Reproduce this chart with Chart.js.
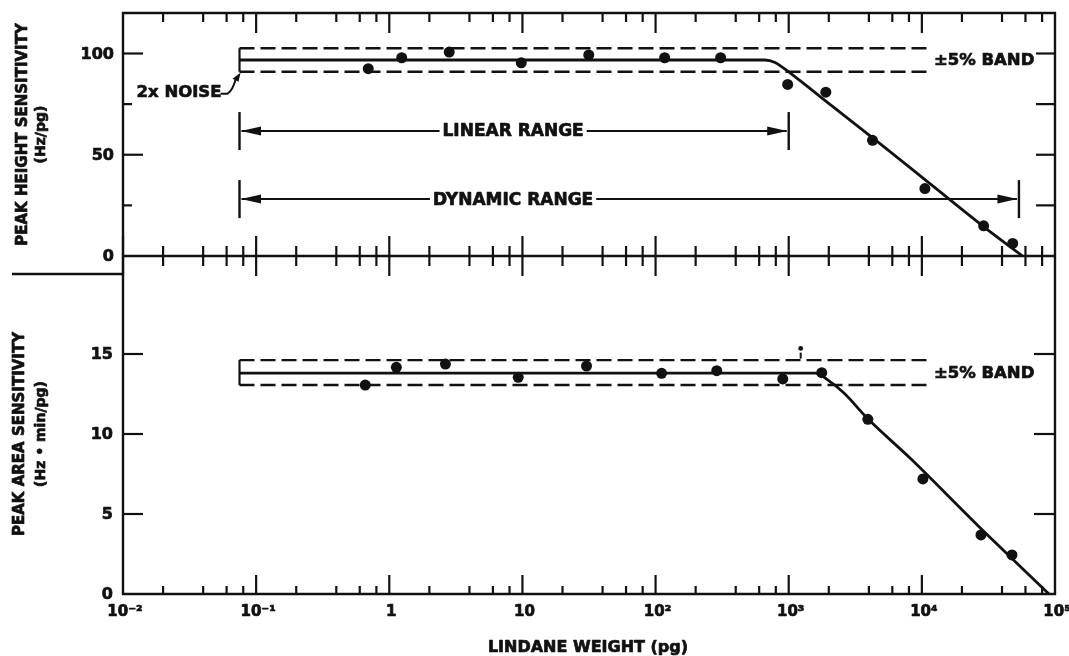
<!DOCTYPE html>
<html>
<head>
<meta charset="utf-8">
<script src="https://cdn.jsdelivr.net/npm/chart.js@4.4.0/dist/chart.umd.min.js"></script>
<style>
  html, body { margin: 0; padding: 0; background: #fff; }
  #wrap { position: relative; width: 1069px; height: 656px; }
  #wrap canvas { position: absolute; left: 0; top: 0; }
</style>
</head>
<body>
<div id="wrap">
  <canvas id="areaChart" width="1069" height="656"></canvas>
  <canvas id="heightChart" width="1069" height="656"></canvas>
</div>
<script>
// Lindane weight axis (pg)
const weightTicks = [0.01, 0.1, 1, 10, 100, 1000, 10000, 100000];
const weightTickLabels = ['10⁻²', '10⁻¹', '1', '10', '10²', '10³', '10⁴', '10⁵'];
const weightMinorMultipliers = [2, 4, 6, 8];

// Peak height sensitivity (Hz/pg)
const heightTicks = [0, 50, 100];
const heightMinorTicks = [25, 75];
const heightWeights = [0.695, 1.24, 2.82, 9.8, 31.5, 117, 308, 982, 1900, 4260, 10540, 29100, 48100];
const heightValues  = [92.5, 97.9, 100.7, 95.4, 99.3, 97.9, 97.9, 84.7, 80.9, 57.1, 33.3, 14.9, 6.2];
const heightFitWeights = [0.075, 660, 790, 916, 1740, 4900, 7760, 29200, 57000];
const heightFitValues  = [96.8, 96.8, 95.6, 92.8, 78.5, 55.2, 44.8, 14.4, 0];
const heightBand = [91.0, 102.6];

// Peak area sensitivity (Hz·min/pg)
const areaTicks = [0, 5, 10, 15];
const areaWeights = [0.66, 1.13, 2.64, 9.3, 30.3, 111, 288, 902, 1770, 3930, 10180, 27800, 47500];
const areaValues  = [13.06, 14.17, 14.37, 13.54, 14.25, 13.79, 13.96, 13.44, 13.83, 10.92, 7.19, 3.69, 2.44];
const areaFitWeights = [0.075, 1590, 1950, 2600, 3930, 8260, 26200, 90200];
const areaFitValues  = [13.8, 13.8, 13.4, 12.56, 10.95, 8.45, 4.3, 0];
const areaBand = [13.06, 14.62];
const areaStrayWeights = [1230];
const areaStrayValues  = [15.35];

// ±5% band extent and the range markers
const bandStart = 0.075;
const bandEnd = 11700;
const linearRange = [0.075, 1000];
const linearRangeLevel = 61.7;
const dynamicRange = [0.075, 53600];
const dynamicRangeLevel = 28.1;

const INK = '#111';
const FONT = '"DejaVu Sans", "Liberation Sans", sans-serif';

const pts = (xs, ys) => xs.map((x, i) => ({ x, y: ys[i] }));

function bandDatasets(band) {
  const dashed = { showLine: true, pointRadius: 0, borderColor: INK, borderWidth: 2.4, borderDash: [15, 6] };
  return [
    Object.assign({ data: [{ x: bandStart, y: band[0] }, { x: bandEnd, y: band[0] }] }, dashed),
    Object.assign({ data: [{ x: bandStart, y: band[1] }, { x: bandEnd, y: band[1] }] }, dashed),
    { data: [{ x: bandStart, y: band[0] }, { x: bandStart, y: band[1] }], showLine: true, pointRadius: 0, borderColor: INK, borderWidth: 2.2 }
  ];
}

function fitDataset(xs, ys) {
  return { data: pts(xs, ys), showLine: true, pointRadius: 0, borderColor: INK, borderWidth: 2.8, cubicInterpolationMode: 'monotone' };
}

function pointDataset(xs, ys) {
  return { data: pts(xs, ys), showLine: false, pointRadius: 5.5, pointBackgroundColor: INK, pointBorderColor: INK, pointBorderWidth: 0 };
}

function baseOptions(yMax, padding) {
  return {
    responsive: false,
    animation: false,
    devicePixelRatio: 1,
    layout: { padding },
    plugins: { legend: { display: false }, tooltip: { enabled: false } },
    scales: {
      x: { type: 'logarithmic', min: 0.01, max: 100000, display: false },
      y: { type: 'linear', min: 0, max: yMax, display: false }
    }
  };
}

function line(ctx, x1, y1, x2, y2) {
  ctx.beginPath(); ctx.moveTo(x1, y1); ctx.lineTo(x2, y2); ctx.stroke();
}

// heavy lettering: fill plus a thin outline
function text(ctx, str, x, y) {
  ctx.save();
  ctx.lineWidth = 0.7;
  ctx.lineJoin = 'round';
  ctx.strokeText(str, x, y);
  ctx.fillText(str, x, y);
  ctx.restore();
}

function arrowHead(ctx, tipX, y, dir) {
  // dir = -1 points left, +1 points right
  ctx.beginPath();
  ctx.moveTo(tipX, y);
  ctx.lineTo(tipX - dir * 20, y - 4.5);
  ctx.lineTo(tipX - dir * 20, y + 4.5);
  ctx.closePath();
  ctx.fill();
}

function rangeMarker(ctx, xs, ys, from, to, level, label) {
  const x1 = xs.getPixelForValue(from), x2 = xs.getPixelForValue(to);
  const py = ys.getPixelForValue(level);
  ctx.lineWidth = 2.4;
  line(ctx, x1, py - 19, x1, py + 19);
  line(ctx, x2, py - 19, x2, py + 19);
  ctx.font = 'bold 17px ' + FONT;
  ctx.textAlign = 'center'; ctx.textBaseline = 'middle';
  const cx = (xs.getPixelForValue(0.075) + xs.getPixelForValue(1000)) / 2 - 1;
  const w = ctx.measureText(label).width;
  text(ctx, label, cx, py + 1);
  ctx.lineWidth = 2;
  line(ctx, x1 + 2, py, cx - w / 2 - 3, py);
  line(ctx, cx + w / 2 + 3, py, x2 - 2, py);
  arrowHead(ctx, x1 + 1.5, py, -1);
  arrowHead(ctx, x2 - 1.5, py, 1);
}

function decadeTicks(fn) {
  for (let e = -2; e <= 4; e++) {
    for (const m of [1].concat(weightMinorMultipliers)) {
      const v = m * Math.pow(10, e);
      if (v <= 0.01) continue;
      fn(v, m === 1);
    }
  }
}

// Upper panel frame, ticks, labels and annotations
const heightPanel = {
  id: 'heightPanel',
  afterDatasetsDraw(chart) {
    const { ctx, chartArea: a, scales: { x, y } } = chart;
    ctx.save();
    ctx.strokeStyle = INK; ctx.fillStyle = INK; ctx.lineCap = 'butt';

    ctx.lineWidth = 2.4;
    ctx.beginPath();
    ctx.moveTo(a.left, a.bottom); ctx.lineTo(a.left, a.top);
    ctx.lineTo(a.right, a.top); ctx.lineTo(a.right, a.bottom);
    ctx.stroke();
    line(ctx, a.left, a.bottom, a.right, a.bottom);

    // x ticks: inward from the top, crossing the shared middle axis
    ctx.lineWidth = 2.2;
    decadeTicks((v, major) => {
      const px = x.getPixelForValue(v);
      line(ctx, px, a.top, px, a.top + (major ? 20 : 9));
      line(ctx, px, a.bottom - (major ? 20 : 10), px, a.bottom + (major ? 20 : 10));
    });
    line(ctx, a.left, a.bottom - 20, a.left, a.bottom + 20);

    // y ticks
    heightTicks.concat(heightMinorTicks).forEach(v => {
      if (v === 0) return;
      const py = y.getPixelForValue(v);
      const major = heightTicks.includes(v);
      line(ctx, a.left, py, a.left + (major ? 20 : 9), py);
      line(ctx, a.right - 19, py, a.right, py);
    });

    ctx.font = 'bold 16px ' + FONT;
    ctx.textAlign = 'right'; ctx.textBaseline = 'middle';
    heightTicks.forEach(v => text(ctx, String(v), a.left - 9, y.getPixelForValue(v) + 1));

    // axis title
    ctx.save();
    ctx.translate(23, (a.top + a.bottom) / 2);
    ctx.rotate(-Math.PI / 2);
    ctx.textAlign = 'center'; ctx.textBaseline = 'middle';
    ctx.font = 'bold 15px ' + FONT;
    text(ctx, 'PEAK HEIGHT SENSITIVITY', 0, 0);
    ctx.font = 'bold 14px ' + FONT;
    text(ctx, '(Hz/pg)', 0, 18);
    ctx.restore();

    // ±5% band label
    ctx.font = 'bold 16.5px ' + FONT;
    ctx.textAlign = 'left'; ctx.textBaseline = 'middle';
    text(ctx, '±5% BAND', x.getPixelForValue(bandEnd) + 3, y.getPixelForValue(heightFitValues[0]) + 1);

    // 2x noise callout
    const bx = x.getPixelForValue(bandStart);
    const by = y.getPixelForValue(heightBand[0]);
    const ty = by + 21;
    ctx.font = 'bold 16.5px ' + FONT;
    ctx.textAlign = 'right';
    text(ctx, '2x NOISE', bx - 18, ty);
    ctx.lineWidth = 2;
    ctx.beginPath();
    ctx.moveTo(bx - 19, ty + 1);
    ctx.lineTo(bx - 12, ty + 1);
    ctx.quadraticCurveTo(bx - 7, ty - 2, bx - 4, by + 8);
    ctx.stroke();
    ctx.beginPath();
    ctx.moveTo(bx + 1, by + 1);
    ctx.lineTo(bx - 1, by + 10);
    ctx.lineTo(bx - 7, by + 7);
    ctx.closePath();
    ctx.fill();

    rangeMarker(ctx, x, y, linearRange[0], linearRange[1], linearRangeLevel, 'LINEAR RANGE');
    rangeMarker(ctx, x, y, dynamicRange[0], dynamicRange[1], dynamicRangeLevel, 'DYNAMIC RANGE');
    ctx.restore();
  }
};

// Lower panel frame, ticks, labels
const areaPanel = {
  id: 'areaPanel',
  afterDatasetsDraw(chart) {
    const { ctx, chartArea: a, scales: { x, y } } = chart;
    ctx.save();
    ctx.strokeStyle = INK; ctx.fillStyle = INK;

    ctx.lineWidth = 2.4;
    ctx.beginPath();
    ctx.moveTo(a.left, a.top); ctx.lineTo(a.left, a.bottom);
    ctx.lineTo(a.right, a.bottom); ctx.lineTo(a.right, a.top);
    ctx.stroke();
    // separator under the upper title block
    line(ctx, 12, y.getPixelForValue(20), a.left, y.getPixelForValue(20));

    ctx.lineWidth = 2.2;
    decadeTicks((v, major) => {
      const px = x.getPixelForValue(v);
      line(ctx, px, a.bottom, px, a.bottom - (major ? 19 : 8));
    });

    areaTicks.forEach(v => {
      if (v === 0) return;
      const py = y.getPixelForValue(v);
      line(ctx, a.left, py, a.left + 20, py);
      line(ctx, a.right - 21, py, a.right, py);
    });

    ctx.font = 'bold 16px ' + FONT;
    ctx.textAlign = 'right'; ctx.textBaseline = 'middle';
    areaTicks.forEach(v => text(ctx, String(v), a.left - 10, y.getPixelForValue(v) + 1));

    ctx.font = 'bold 15px ' + FONT;
    ctx.textAlign = 'center'; ctx.textBaseline = 'middle';
    weightTicks.forEach((v, i) => text(ctx, weightTickLabels[i], x.getPixelForValue(v) + 2, a.bottom + 18));

    ctx.font = 'bold 16px ' + FONT;
    text(ctx, 'LINDANE WEIGHT (pg)', 588, a.bottom + 54);

    ctx.save();
    ctx.translate(20, y.getPixelForValue(10));
    ctx.rotate(-Math.PI / 2);
    ctx.textAlign = 'center'; ctx.textBaseline = 'middle';
    ctx.font = 'bold 15px ' + FONT;
    text(ctx, 'PEAK AREA SENSITIVITY', 0, 0);
    ctx.font = 'bold 14px ' + FONT;
    text(ctx, '(Hz • min/pg)', 0, 21);
    ctx.restore();

    ctx.font = 'bold 16.5px ' + FONT;
    ctx.textAlign = 'left';
    text(ctx, '±5% BAND', x.getPixelForValue(bandEnd) + 3, y.getPixelForValue(areaFitValues[0]) + 1);
    ctx.restore();
  }
};

new Chart(document.getElementById('heightChart'), {
  type: 'scatter',
  data: {
    datasets: bandDatasets(heightBand).concat([
      fitDataset(heightFitWeights, heightFitValues),
      pointDataset(heightWeights, heightValues)
    ])
  },
  options: baseOptions(120, { left: 123, right: 14, top: 13, bottom: 400 }),
  plugins: [heightPanel]
});

new Chart(document.getElementById('areaChart'), {
  type: 'scatter',
  data: {
    datasets: bandDatasets(areaBand).concat([
      fitDataset(areaFitWeights, areaFitValues),
      pointDataset(areaWeights, areaValues),
      { data: pts(areaStrayWeights, areaStrayValues), showLine: false, pointRadius: 2.4, pointBackgroundColor: INK, pointBorderWidth: 0 },
      { data: pts(areaStrayWeights, areaStrayValues.map(v => v - 0.45)), showLine: false, pointStyle: 'line', rotation: 90, pointRadius: 3, borderColor: INK, borderWidth: 2 }
    ])
  },
  options: baseOptions(21.125, { left: 123, right: 14, top: 256, bottom: 62 }),
  plugins: [areaPanel]
});
</script>
</body>
</html>
